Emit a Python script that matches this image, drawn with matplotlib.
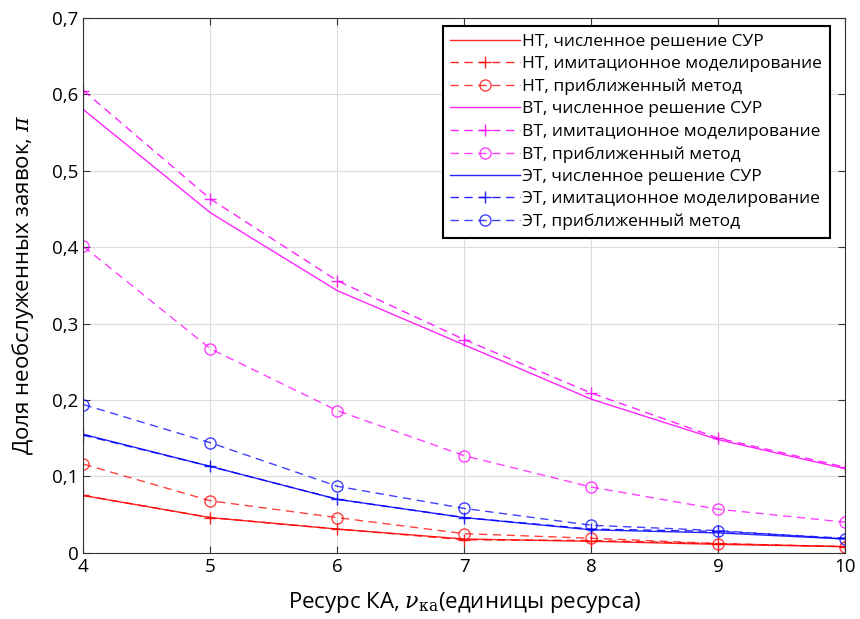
import matplotlib.pyplot as plt
from matplotlib.ticker import FuncFormatter

plt.rcParams['font.family'] = ['Open Sans', 'DejaVu Sans']
plt.rcParams['mathtext.fontset'] = 'dejavuserif'

# resource of the spacecraft (x axis)
nu = [4, 5, 6, 7, 8, 9, 10]

# НТ
nt_sur = [0.075, 0.046, 0.031, 0.018, 0.015, 0.011, 0.008]
nt_sim = [0.075, 0.046, 0.031, 0.017, 0.016, 0.012, 0.008]
nt_apx = [0.116, 0.068, 0.046, 0.025, 0.019, 0.012, 0.008]

# ВТ
vt_sur = [0.580, 0.445, 0.343, 0.272, 0.201, 0.148, 0.110]
vt_sim = [0.605, 0.463, 0.356, 0.279, 0.209, 0.150, 0.112]
vt_apx = [0.401, 0.267, 0.186, 0.127, 0.086, 0.057, 0.040]

# ЭТ
et_sur = [0.155, 0.113, 0.070, 0.046, 0.030, 0.026, 0.018]
et_sim = [0.154, 0.113, 0.070, 0.046, 0.031, 0.028, 0.019]
et_apx = [0.194, 0.144, 0.087, 0.058, 0.036, 0.029, 0.018]

groups = [
    ('НТ', '#ff0000', nt_sur, nt_sim, nt_apx),
    ('ВТ', '#ff00ff', vt_sur, vt_sim, vt_apx),
    ('ЭТ', '#0000ff', et_sur, et_sim, et_apx),
]

fig = plt.figure(figsize=(8.6, 6.19), dpi=100)
ax = fig.add_axes([0.097, 0.107, 0.886, 0.864])

dash = (0, (6, 4))
for name, c, sur, sim, apx in groups:
    ax.plot(nu, sur, '-', color=c, lw=1, alpha=0.85,
            label=f'{name}, численное решение СУР')
    ax.plot(nu, sim, '+', ls=dash, color=c, lw=1, ms=9, mew=1, alpha=0.85,
            label=f'{name}, имитационное моделирование')
    ax.plot(nu, apx, 'o', ls=dash, color=c, lw=1, ms=8, mew=1, mfc='none',
            alpha=0.75, label=f'{name}, приближенный метод')

ax.set_xlim(4, 10)
ax.set_ylim(0, 0.7)
ax.set_xticks(nu)
ax.set_yticks([0, 0.1, 0.2, 0.3, 0.4, 0.5, 0.6, 0.7])
ax.yaxis.set_major_formatter(FuncFormatter(
    lambda v, p: '0' if v == 0 else f'{v:.1f}'.replace('.', ',')))
ax.grid(True, color='#dcdcdc', lw=0.8)
ax.tick_params(direction='in', length=5, labelsize=13.5, top=True, right=True,
               color='#333333')
for s in ax.spines.values():
    s.set_color('#333333')

ax.set_xlabel(r'Ресурс КА, $\nu_{\mathrm{ка}}$(единицы ресурса)', fontsize=16,
              labelpad=10)
ax.set_ylabel(r'Доля необслуженных заявок, $\pi$', fontsize=16, labelpad=12)

leg = ax.legend(loc='upper right', bbox_to_anchor=(0.98, 0.985),
                fontsize=12.5, handlelength=4.0, handletextpad=0.15,
                labelspacing=0.36, borderpad=0.45, borderaxespad=0,
                fancybox=False, framealpha=1)
leg.get_frame().set_edgecolor('black')
leg.get_frame().set_linewidth(1.5)

fig.savefig('out.png', dpi=100)
